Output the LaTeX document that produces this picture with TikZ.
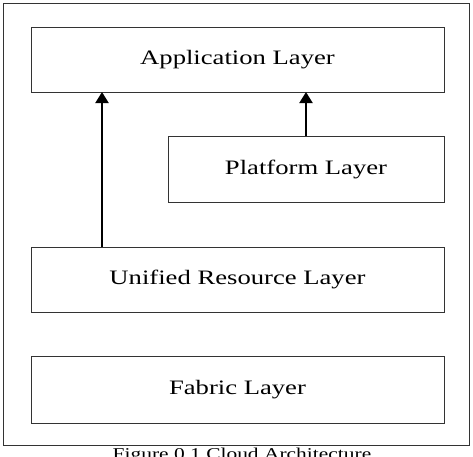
\documentclass[tikz,border=0pt]{standalone}
\usepackage{fontspec}
\usepackage{tikz}
\usetikzlibrary{arrows.meta}
\newfontfamily\layerfont{Liberation Serif}[FakeStretch=1.3]

\begin{document}
\begin{tikzpicture}[x=1pt,y=-1pt,
  layer/.style={draw=black!80,line width=0.9pt,inner sep=0pt,outer sep=0pt,
    minimum height=65pt,font=\layerfont\fontsize{20.5}{24}\selectfont},
  uparrow/.style={line width=2pt,-{Triangle[width=13pt,length=11pt]}}]
\useasboundingbox (0,0) rectangle (473,456);
\draw[black!80,line width=0.9pt] (3,3) rectangle (469,445.5);
\node[layer,minimum width=413pt] (app) at (237.5,59.5) {Application Layer};
\node[layer,minimum width=276pt,minimum height=66pt] (plat) at (306,169) {Platform Layer};
\node[layer,minimum width=413pt] (unif) at (237.5,279.5) {Unified Resource Layer};
\node[layer,minimum width=413pt,minimum height=67pt] (fab) at (237.5,389.5) {Fabric Layer};
\coordinate (ufoot) at (102,247);
\draw[uparrow] (ufoot) -- (ufoot |- app.south);
\draw[uparrow] (plat.north) -- (plat.north |- app.south);
\node[anchor=base,font=\layerfont\fontsize{16.5}{19}\selectfont] (cap) at (242,459) {Figure 0.1 Cloud Architecture};
\end{tikzpicture}
\end{document}
